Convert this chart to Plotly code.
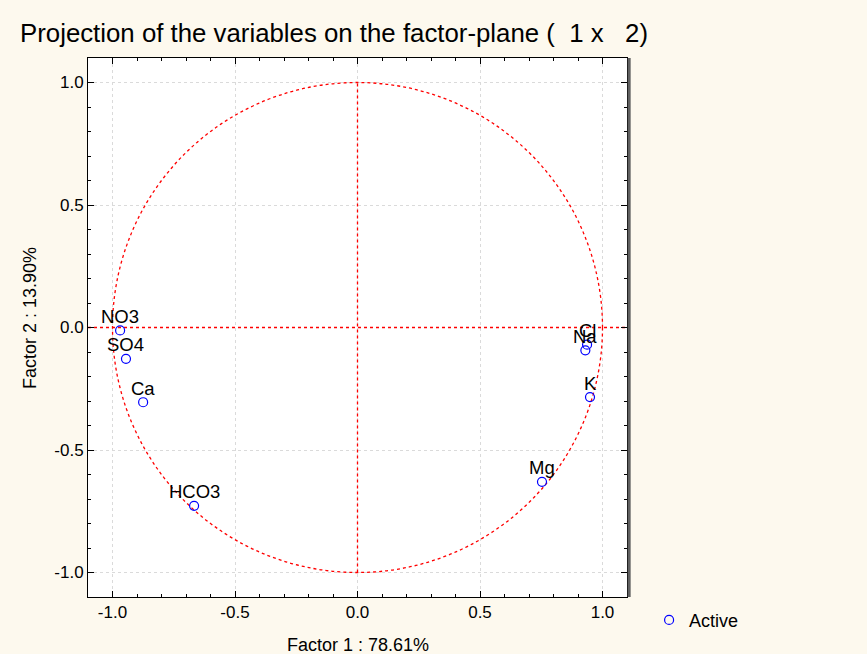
import plotly.graph_objects as go

variables = ["NO3", "SO4", "Ca", "HCO3", "Mg", "K", "Cl", "Na"]
factor1 = [-0.969, -0.945, -0.875, -0.667, 0.753, 0.949, 0.937, 0.930]
factor2 = [-0.012, -0.128, -0.305, -0.728, -0.630, -0.284, -0.070, -0.093]
tick_vals = [-1.0, -0.5, 0.0, 0.5, 1.0]
tick_text = ["-1.0", "-0.5", "0.0", "0.5", "1.0"]
x_title = "Factor 1 : 78.61%"
y_title = "Factor 2 : 13.90%"

font_family = "Liberation Sans, Arial, sans-serif"

fig = go.Figure()

fig.add_trace(go.Scatter(
    x=factor1, y=factor2, mode="markers",
    marker=dict(symbol="circle-open", size=9, color="blue", line=dict(width=1.2, color="blue")),
    name="Active", cliponaxis=False,
))

for name, fx, fy in zip(variables, factor1, factor2):
    fig.add_annotation(x=fx, y=fy, text=name, showarrow=False, yshift=14,
                       xanchor="center", yanchor="middle",
                       font=dict(family=font_family, size=18.5, color="black"))

# axis titles
fig.add_annotation(xref="paper", yref="paper", x=0.5, y=-0.089, text=x_title,
                   showarrow=False, xanchor="center", yanchor="middle",
                   font=dict(family=font_family, size=18, color="black"))
fig.add_annotation(xref="paper", yref="paper", x=-0.1076, y=0.5176, text=y_title,
                   showarrow=False, xanchor="center", yanchor="middle", textangle=-90,
                   font=dict(family=font_family, size=18, color="black"))

# unit circle and reference lines
fig.add_shape(type="circle", xref="x", yref="y", x0=-1, y0=-1, x1=1, y1=1,
              line=dict(color="red", width=1.3, dash="dot"), layer="between")
fig.add_shape(type="line", xref="x", yref="y", x0=-1.1, y0=0, x1=1.1, y1=0,
              line=dict(color="red", width=1.3, dash="dot"), layer="between")
fig.add_shape(type="line", xref="x", yref="y", x0=0, y0=-1, x1=0, y1=1,
              line=dict(color="red", width=1.3, dash="dot"), layer="between")
# right-edge shadow of the plot frame
fig.add_shape(type="line", xref="paper", yref="paper", x0=1.004, y0=0, x1=1.004, y1=1,
              line=dict(color="#606060", width=3))

axis_common = dict(
    range=[-1.1, 1.1], tickvals=tick_vals, ticktext=tick_text,
    ticks="inside", ticklen=6, tickcolor="black", mirror="ticks",
    showline=True, linecolor="black", linewidth=1,
    showgrid=True, gridcolor="#dadada", griddash="dot", gridwidth=1,
    zeroline=False, automargin=False,
    tickfont=dict(family=font_family, size=17, color="black"),
    minor=dict(ticks="inside", dtick=0.1, ticklen=3, tickcolor="black", showgrid=False),
)

fig.update_layout(
    width=867, height=654,
    paper_bgcolor="#FDF9EE", plot_bgcolor="white",
    margin=dict(l=88, r=240, t=58, b=57),
    title=dict(text="Projection of the variables on the factor-plane (  1 x   2)",
               x=20/867, xanchor="left", y=1 - 33/654, yanchor="middle",
               font=dict(family=font_family, size=25.8, color="black")),
    xaxis=dict(**axis_common),
    yaxis=dict(**axis_common),
    showlegend=True,
    legend=dict(x=1.041, y=-0.043, xanchor="left", yanchor="middle",
                bgcolor="rgba(0,0,0,0)",
                font=dict(family=font_family, size=18, color="black")),
)

fig.write_html("out.html", config={"displayModeBar": False},
               post_script="document.body.style.margin='0';")
